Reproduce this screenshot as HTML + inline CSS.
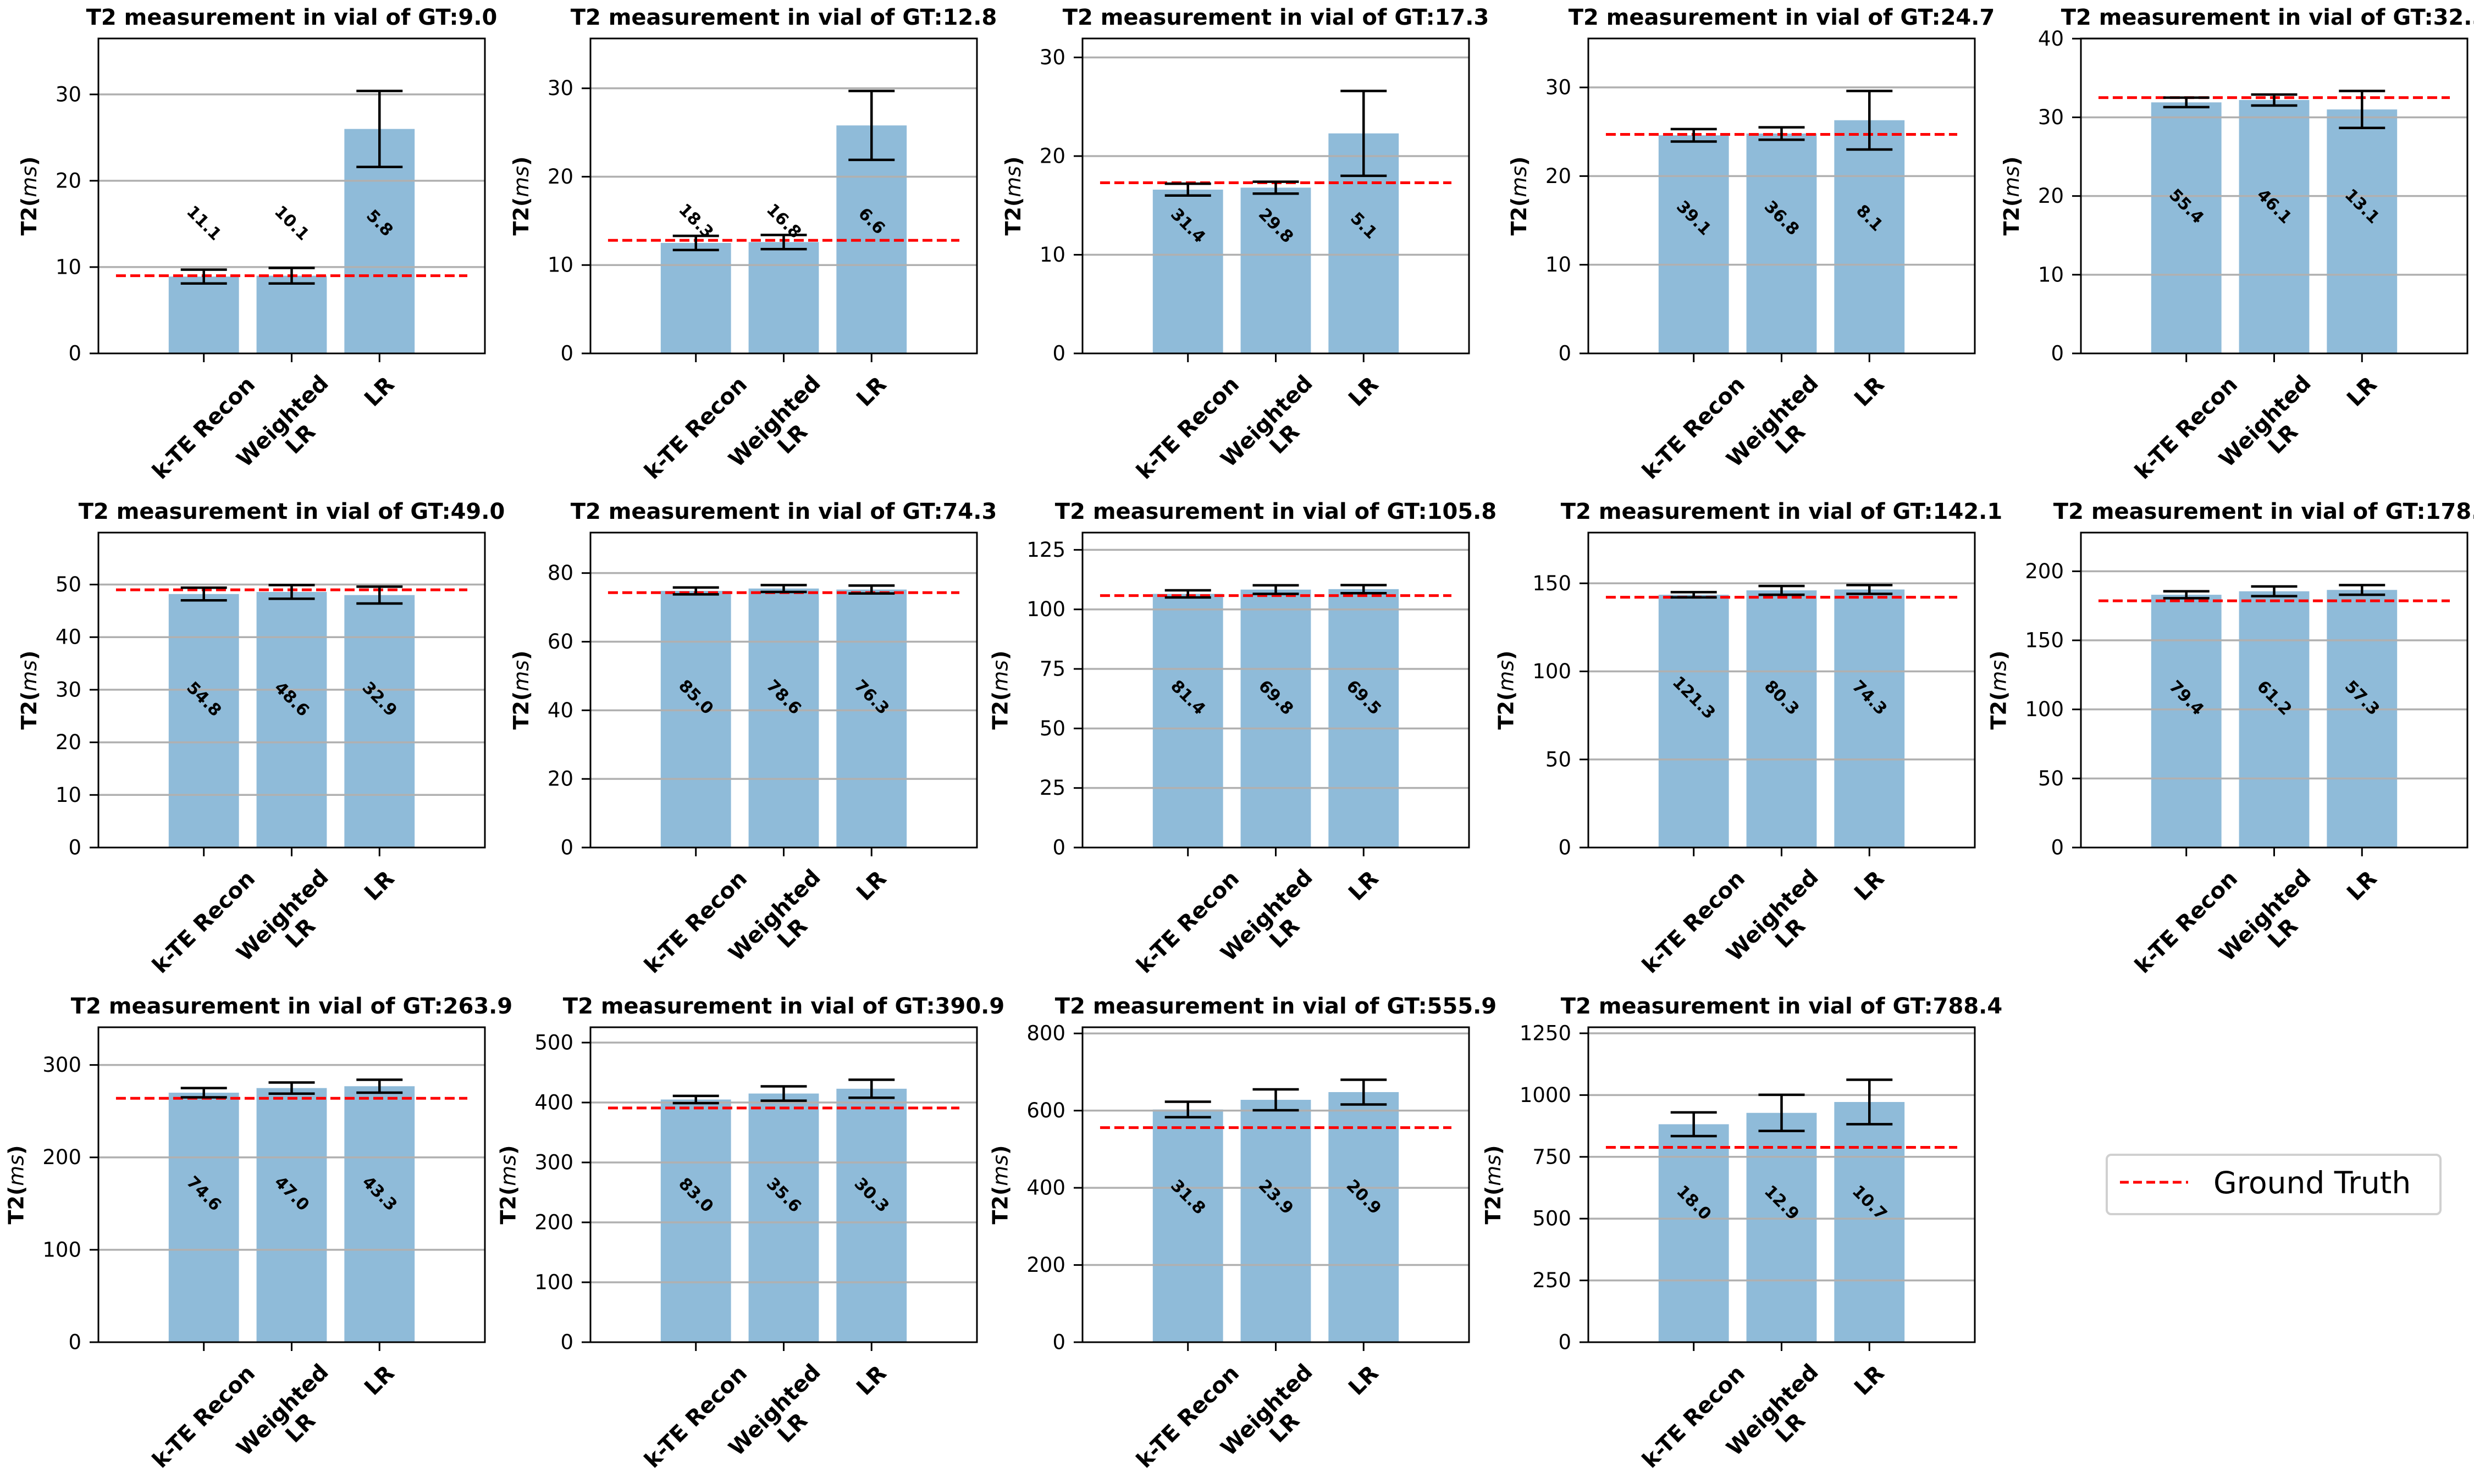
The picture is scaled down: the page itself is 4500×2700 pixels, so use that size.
<!DOCTYPE html>
<html><head><meta charset="utf-8"><style>
html,body{margin:0;padding:0;background:#fff;overflow:hidden;width:4500px;height:2700px}
svg{display:block;font-family:"DejaVu Sans","Liberation Sans",sans-serif}
</style></head><body>
<svg id="fig" width="4500" height="2700" viewBox="0 0 4500 2700" xmlns="http://www.w3.org/2000/svg">
<rect width="4500" height="2700" fill="#fff"/>
<g id="legend">
<rect x="3832" y="2101" width="607" height="108" rx="8" fill="#fff" stroke="#d0d0d0" stroke-width="4"/>
<line x1="3856" y1="2151" x2="3980" y2="2151" stroke="#ff0000" stroke-width="5" stroke-dasharray="16 8"/>
<text x="4026" y="2171" font-size="55" fill="#000">Ground Truth</text>
</g>
</svg>
<script>
const gtValues = [9.0,12.8,17.3,24.7,32.5,49.0,74.3,105.8,142.1,178.6,263.9,390.9,555.9,788.4];
const categories = ["k-TE Recon","Weighted\nLR","LR"];
const kteMeans = [8.9,12.5,16.6,24.6,31.9,48.2,74.8,106.5,143.5,183,270,405,603,882];
const kteErrs  = [0.8,0.8,0.6,0.7,0.6,1.2,1.0,1.5,1.5,2.5,5,6,20,48];
const wlrMeans = [9.0,12.6,16.8,24.8,32.2,48.6,75.5,108.3,146,185.5,275,415,628,928];
const wlrErrs  = [0.9,0.8,0.6,0.7,0.7,1.3,1.0,1.8,2.5,3.5,6,12,27,73];
const lrMeans  = [26.0,25.8,22.3,26.3,31.0,48.0,75.2,108.5,146.5,186.5,277,423,648,972];
const lrErrs   = [4.4,3.9,4.3,3.3,2.35,1.6,1.15,1.7,2.5,3.5,7,15,32,90];
const kteLabels = ["11.1","18.3","31.4","39.1","55.4","54.8","85.0","81.4","121.3","79.4","74.6","83.0","31.8","18.0"];
const wlrLabels = ["10.1","16.8","29.8","36.8","46.1","48.6","78.6","69.8","80.3","61.2","47.0","35.6","23.9","12.9"];
const lrLabels  = ["5.8","6.6","5.1","8.1","13.1","32.9","76.3","69.5","74.3","57.3","43.3","30.3","20.9","10.7"];
const tickSteps = [10,10,10,10,10,10,20,25,50,50,100,100,200,250];

const NS="http://www.w3.org/2000/svg";
const svg=document.getElementById('fig');
const colLefts=[179,1074,1969,2889,3785], rowTops=[70,969,1869], W=703, H=573;
function mk(tag,attrs,parent){const e=document.createElementNS(NS,tag);for(const k in attrs)e.setAttribute(k,attrs[k]);(parent||svg).appendChild(e);return e;}

for(let p=0;p<gtValues.length;p++){
  const L=colLefts[p%5], T=rowTops[Math.floor(p/5)], B=T+H;
  const g=mk('g',{});
  
  
  const means=[kteMeans[p],wlrMeans[p],lrMeans[p]], errs=[kteErrs[p],wlrErrs[p],lrErrs[p]];
  const labels=[kteLabels[p],wlrLabels[p],lrLabels[p]];
  let maxUp=0; for(let i=0;i<3;i++) maxUp=Math.max(maxUp,means[i]+errs[i]);
  const ymax=maxUp*1.2;
  const xS=v=>L+(v+1.2)/4.4*W, yS=v=>B-v/ymax*H;
  const t=mk('text',{x:L+W/2,y:T-25,'text-anchor':'middle','font-size':40,'font-weight':'bold'},g);
  t.textContent='T2 measurement in vial of GT:'+gtValues[p].toFixed(1);
  
  
  for(let i=0;i<3;i++){
    const r=mk('rect',{x:xS(i-0.4),y:yS(means[i]),width:xS(0.8)-xS(0),height:B-yS(means[i]),fill:'#8fbbd9'},g);
    
    
  }
  let maxTW=0;
  for(let v=0;v<=ymax+1e-9;v+=tickSteps[p]){
    const y=yS(v);
    if(v>0){const gl=mk('line',{x1:L,x2:L+W,y1:y,y2:y,stroke:'#b0b0b0','stroke-width':3.5},g);
      
      }
    mk('line',{x1:L-16,x2:L,y1:y,y2:y,stroke:'#000','stroke-width':3},g);
    const tl=mk('text',{x:L-31,y:y,'text-anchor':'end','dominant-baseline':'central','font-size':37},g);
    tl.textContent=String(v);
    
    
    maxTW=Math.max(maxTW,tl.getComputedTextLength());
  }
  const gl=mk('line',{x1:xS(-1),x2:xS(3),y1:yS(gtValues[p]),y2:yS(gtValues[p]),stroke:'#ff0000','stroke-width':5,'stroke-dasharray':'18 8'},g);
  
  
  for(let i=0;i<3;i++){
    const eg=mk('g',{stroke:'#000','stroke-width':4.5},g);
    
    
    const x=xS(i),y1=yS(means[i]-errs[i]),y2=yS(means[i]+errs[i]);
    mk('line',{x1:x,x2:x,y1:y1,y2:y2},eg);
    mk('line',{x1:x-42,x2:x+42,y1:y1,y2:y1},eg);
    mk('line',{x1:x-42,x2:x+42,y1:y2,y2:y2},eg);
  }
  const ly=yS(0.58*Math.max(...means));
  for(let i=0;i<3;i++){
    const x=xS(i);
    const bl=mk('text',{x:x,y:ly,'text-anchor':'middle','dominant-baseline':'central','font-size':30,'font-weight':'bold',transform:`rotate(45 ${x} ${ly})`},g);
    bl.textContent=labels[i];
    
    
  }
  const sp=mk('rect',{x:L,y:T,width:W,height:H,fill:'none',stroke:'#000','stroke-width':3},g);
  
  
  for(let i=0;i<3;i++){
    const x=xS(i);
    mk('line',{x1:x,x2:x,y1:B,y2:B+16,stroke:'#000','stroke-width':3},g);
    const lines=categories[i].split('\n');
    const fs=40, lh=fs*1.15;
    const tx=mk('text',{'font-size':fs,'font-weight':'bold','text-anchor':'middle','dominant-baseline':'central'},g);
    
    
    let wmax=0;
    lines.forEach((s,k)=>{const ts=mk('tspan',{x:0,y:(k-(lines.length-1)/2)*lh},tx);ts.textContent=s;wmax=Math.max(wmax,ts.getComputedTextLength());});
    const bh=lines.length*lh*0.85;
    const Hb=(wmax+bh)/Math.SQRT2;
    const cy=B+36+Hb/2;
    tx.setAttribute('transform',`translate(${x} ${cy}) rotate(-45)`);
  }
  const yx=L-31-maxTW-48, yc=T+H/2;
  const yl=mk('text',{x:yx,y:yc,'text-anchor':'middle','dominant-baseline':'central','font-size':38,'font-weight':'bold',transform:`rotate(-90 ${yx} ${yc})`},g);
  
  
  const a=mk('tspan',{},yl);a.textContent='T2(';
  const m=mk('tspan',{'font-style':'italic','font-weight':'normal'},yl);m.textContent='ms';
  const c=mk('tspan',{},yl);c.textContent=')';
}
svg.appendChild(document.getElementById('legend'));
</script>
</body></html>
